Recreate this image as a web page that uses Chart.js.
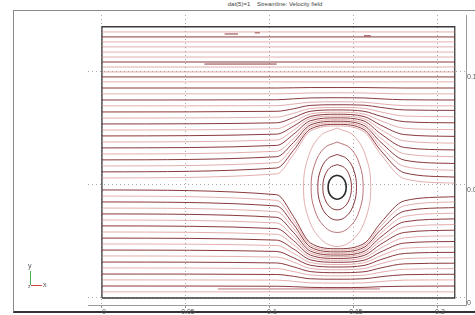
<!DOCTYPE html>
<html>
<head>
<meta charset="utf-8">
<script src="https://cdn.jsdelivr.net/npm/chart.js@4.4.1/dist/chart.umd.min.js"></script>
<style>
  html, body { margin: 0; padding: 0; background: #fff; }
  #wrap { position: relative; width: 475px; height: 315px; overflow: hidden; font-family: "Liberation Sans", "DejaVu Sans", sans-serif; }
  #frame { position: absolute; left: 13px; top: 10px; width: 470px; height: 300px; border-left: 1px solid #8a8a8a; border-top: 1px solid #8a8a8a; border-bottom: 2px solid #333; }
  #title { position: absolute; top: 1px; left: 0; width: 550px; text-align: center; font-size: 6px; color: #444; white-space: pre; }
  canvas { position: absolute; left: 0; top: 0; }
  .tri { position: absolute; }
</style>
</head>
<body>
<div id="wrap">
  <div id="frame"></div>
  <div id="title">dat(5)=1    Streamline: Velocity field</div>
  <canvas id="c" width="475" height="315"></canvas>
  <div class="tri" style="left:30px;top:271px;width:1px;height:14px;background:#4caf50;"></div>
  <div class="tri" style="left:31px;top:285px;width:11px;height:1px;background:#d04040;"></div>
  <div class="tri" style="left:28px;top:262px;font-size:7px;color:#555;">y</div>
  <div class="tri" style="left:43px;top:281px;font-size:7px;color:#555;">x</div>
  <div class="tri" style="left:28px;top:283px;font-size:5px;color:#555;">z</div>
</div>
<script>
// ---- axis ticks ----
const xTicks = [0, 0.05, 0.1, 0.15, 0.2];
const xTickLabels = ['0', '0.05', '0.1', '0.15', '0.2'];
const yTicks = [0, 0.05, 0.1];
const yTickLabels = ['0', '0.05', '0.1'];

// ---- domain outline ----
const domainX = [0, 0.21, 0.21, 0, 0];
const domainY = [0, 0, 0.12, 0.12, 0];

// ---- straight streamlines (far from the vortex) ----
const straightY     = [0.1177, 0.1155, 0.1133, 0.1111, 0.1088, 0.1066, 0.1044, 0.1022, 0.1, 0.0978, 0.0956, 0.0027];
const straightShade = ['l', 'd', 'l', 'l', 'l', 'l', 'd', 'l', 'l', 'd', 'l', 'l'];

// ---- x stations for deflected streamlines ----
const stationX = [0, 0.104, 0.114, 0.124, 0.14, 0.156, 0.166, 0.18, 0.21];

// lines with a small bump over the vortex
const bumpY = [
  [0.0929, 0.0929, 0.0930, 0.0931, 0.0931, 0.0931, 0.0930, 0.0929, 0.0929],
  [0.0903, 0.0903, 0.0905, 0.0907, 0.0908, 0.0907, 0.0905, 0.0903, 0.0903],
  [0.0876, 0.0877, 0.0881, 0.0885, 0.0886, 0.0885, 0.0881, 0.0877, 0.0876],
  [0.0850, 0.0851, 0.0858, 0.0866, 0.0868, 0.0866, 0.0859, 0.0851, 0.0850]
];
const bumpShade = ['d', 'l', 'd', 'l'];

// lines passing over the vortex
const upperY = [
  [0.0823, 0.0826, 0.0837, 0.0852, 0.0855, 0.0853, 0.0843, 0.0832, 0.0830],
  [0.0796, 0.0800, 0.0817, 0.0838, 0.0843, 0.0839, 0.0823, 0.0805, 0.0802],
  [0.0770, 0.0775, 0.0798, 0.0826, 0.0832, 0.0826, 0.0804, 0.0780, 0.0775],
  [0.0743, 0.0749, 0.0779, 0.0814, 0.0822, 0.0814, 0.0784, 0.0751, 0.0745],
  [0.0717, 0.0725, 0.0760, 0.0803, 0.0813, 0.0803, 0.0764, 0.0723, 0.0715],
  [0.0690, 0.0699, 0.0742, 0.0794, 0.0805, 0.0793, 0.0745, 0.0695, 0.0685],
  [0.0664, 0.0675, 0.0724, 0.0784, 0.0797, 0.0783, 0.0726, 0.0666, 0.0655],
  [0.0637, 0.0649, 0.0705, 0.0774, 0.0789, 0.0773, 0.0707, 0.0638, 0.0625],
  [0.0611, 0.0625, 0.0688, 0.0765, 0.0782, 0.0763, 0.0689, 0.0610, 0.0595],
  [0.0584, 0.0599, 0.0670, 0.0756, 0.0775, 0.0754, 0.0670, 0.0582, 0.0565],
  [0.0558, 0.0575, 0.0653, 0.0747, 0.0768, 0.0745, 0.0652, 0.0554, 0.0535],
  [0.0531, 0.0549, 0.0635, 0.0738, 0.0761, 0.0736, 0.0635, 0.0528, 0.0508]
];
const upperShade = ['d', 'l', 'd', 'l', 'd', 'l', 'd', 'l', 'd', 'l', 'd', 'l'];

// lines passing under the vortex
const lowerY = [
  [0.0478, 0.0457, 0.0361, 0.0244, 0.0218, 0.0241, 0.0333, 0.0430, 0.0448],
  [0.0451, 0.0432, 0.0343, 0.0235, 0.0211, 0.0232, 0.0318, 0.0408, 0.0425],
  [0.0425, 0.0407, 0.0326, 0.0226, 0.0204, 0.0224, 0.0302, 0.0384, 0.0400],
  [0.0398, 0.0382, 0.0308, 0.0217, 0.0197, 0.0215, 0.0286, 0.0361, 0.0375],
  [0.0372, 0.0357, 0.0290, 0.0208, 0.0190, 0.0206, 0.0270, 0.0337, 0.0350],
  [0.0345, 0.0332, 0.0272, 0.0199, 0.0183, 0.0197, 0.0254, 0.0314, 0.0325],
  [0.0319, 0.0307, 0.0254, 0.0190, 0.0175, 0.0188, 0.0238, 0.0290, 0.0300],
  [0.0292, 0.0282, 0.0236, 0.0180, 0.0167, 0.0178, 0.0221, 0.0266, 0.0275],
  [0.0265, 0.0256, 0.0217, 0.0169, 0.0158, 0.0167, 0.0204, 0.0243, 0.0250],
  [0.0239, 0.0232, 0.0198, 0.0157, 0.0148, 0.0156, 0.0187, 0.0220, 0.0226],
  [0.0212, 0.0206, 0.0178, 0.0145, 0.0137, 0.0144, 0.0170, 0.0197, 0.0202],
  [0.0186, 0.0181, 0.0159, 0.0131, 0.0125, 0.0130, 0.0152, 0.0174, 0.0178],
  [0.0159, 0.0155, 0.0138, 0.0117, 0.0112, 0.0116, 0.0133, 0.0151, 0.0154],
  [0.0133, 0.0130, 0.0117, 0.0102, 0.0098, 0.0101, 0.0114, 0.0127, 0.0130],
  [0.0106, 0.0104, 0.0096, 0.0085, 0.0083, 0.0085, 0.0094, 0.0103, 0.0105],
  [0.0080, 0.0079, 0.0074, 0.0067, 0.0066, 0.0067, 0.0073, 0.0079, 0.0080],
  [0.0053, 0.0052, 0.0050, 0.0047, 0.0046, 0.0047, 0.0050, 0.0052, 0.0053]
];
const lowerShade = ['d', 'l', 'd', 'l', 'd', 'l', 'd', 'l', 'd', 'l', 'd', 'l', 'd', 'l', 'd', 'l', 'd'];

// closed vortex rings around the cylinder (first = cylinder wall)
const ringX = [
  [0.14, 0.1427, 0.1447, 0.1454, 0.1447, 0.1427, 0.14, 0.1373, 0.1353, 0.1346, 0.1353, 0.1373, 0.14],
  [0.14, 0.1443, 0.1474, 0.1485, 0.1474, 0.1443, 0.14, 0.1358, 0.1326, 0.1315, 0.1326, 0.1358, 0.14],
  [0.14, 0.1458, 0.1500, 0.1515, 0.1500, 0.1458, 0.14, 0.1343, 0.1300, 0.1285, 0.1300, 0.1343, 0.14],
  [0.14, 0.1478, 0.1534, 0.1555, 0.1534, 0.1478, 0.14, 0.1323, 0.1266, 0.1245, 0.1266, 0.1323, 0.14],
  [0.14, 0.1500, 0.1573, 0.1600, 0.1573, 0.1500, 0.14, 0.1300, 0.1227, 0.1200, 0.1227, 0.1300, 0.14]
];
const ringY = [
  [0.0543, 0.0536, 0.0517, 0.049, 0.0463, 0.0444, 0.0437, 0.0444, 0.0463, 0.049, 0.0517, 0.0536, 0.0543],
  [0.0590, 0.0577, 0.0540, 0.049, 0.0440, 0.0403, 0.0390, 0.0403, 0.0440, 0.049, 0.0540, 0.0577, 0.0590],
  [0.0635, 0.0616, 0.0563, 0.049, 0.0418, 0.0364, 0.0345, 0.0364, 0.0418, 0.049, 0.0563, 0.0616, 0.0635],
  [0.0690, 0.0663, 0.0590, 0.049, 0.0390, 0.0317, 0.0290, 0.0317, 0.0390, 0.049, 0.0590, 0.0663, 0.0690],
  [0.0752, 0.0717, 0.0621, 0.049, 0.0359, 0.0263, 0.0228, 0.0263, 0.0359, 0.049, 0.0621, 0.0717, 0.0752]
];
const ringShade = ['c', 'd', 'd', 'm', 'l'];

// short partial streamline pieces
const pieceX = [[0.073, 0.081], [0.091, 0.094], [0.156, 0.160], [0.061, 0.104], [0.069, 0.1655]];
const pieceY = [[0.1168, 0.1168], [0.1173, 0.1173], [0.1160, 0.1160], [0.1035, 0.1035], [0.0040, 0.0040]];
const pieceShade = ['d', 'd', 'd', 'd', 'm'];

// ---- styles ----
const shadeColor = { d: 'rgba(125,35,40,0.9)', m: 'rgba(160,70,75,0.75)', l: 'rgba(210,130,130,0.65)', c: '#2b2b2b', k: '#3a3a3a' };
const shadeWidth = { d: 1, m: 1, l: 1, c: 1.6, k: 1.3 };

const datasets = [];
function addLine(xs, ys, shade, smooth, closed) {
  datasets.push({
    data: xs.map((x, i) => ({ x: x, y: ys[i] })),
    showLine: true,
    borderColor: shadeColor[shade],
    borderWidth: shadeWidth[shade],
    pointRadius: 0,
    fill: false,
    tension: smooth ? 0.4 : 0,
    cubicInterpolationMode: closed ? 'default' : 'monotone'
  });
}
straightY.forEach((y, i) => addLine([0, 0.21], [y, y], straightShade[i], false, false));
bumpY.forEach((ys, i) => addLine(stationX, ys, bumpShade[i], true, false));
upperY.forEach((ys, i) => addLine(stationX, ys, upperShade[i], true, false));
lowerY.forEach((ys, i) => addLine(stationX, ys, lowerShade[i], true, false));
pieceX.forEach((xs, i) => addLine(xs, pieceY[i], pieceShade[i], false, false));
ringX.forEach((xs, i) => addLine(xs, ringY[i], ringShade[i], true, true));
addLine(domainX, domainY, 'k', false, false);

const tickFont = { family: 'Liberation Sans, DejaVu Sans, sans-serif', size: 7 };

new Chart(document.getElementById('c'), {
  type: 'scatter',
  data: { datasets: datasets },
  options: {
    responsive: false,
    animation: false,
    events: [],
    layout: { padding: { left: 88, top: 15, right: 0, bottom: 0 }, autoPadding: false },
    plugins: { legend: { display: false }, tooltip: { enabled: false }, title: { display: false } },
    scales: {
      x: {
        type: 'linear',
        position: 'bottom',
        min: -0.0083,
        max: 0.2167,
        afterBuildTicks: s => { s.ticks = xTicks.map(v => ({ value: v })); },
        afterFit: s => { s.height = 10; },
        ticks: {
          callback: (v) => { const i = xTicks.indexOf(v); return i >= 0 ? xTickLabels[i] : ''; },
          font: tickFont, color: '#555', padding: 0, labelOffset: 2, maxRotation: 0, autoSkip: false
        },
        grid: { color: 'rgba(150,150,150,0.8)', lineWidth: 1, tickLength: 3, tickColor: '#999', drawTicks: true },
        border: { display: true, color: '#9a9a9a', width: 1, dash: [1, 3] }
      },
      y: {
        type: 'linear',
        position: 'right',
        min: -0.0031,
        max: 0.1252,
        afterBuildTicks: s => { s.ticks = yTicks.map(v => ({ value: v })); },
        afterFit: s => { s.width = 9; },
        ticks: {
          callback: (v) => { const i = yTicks.indexOf(v); return i >= 0 ? yTickLabels[i] : ''; },
          font: tickFont, color: '#555', padding: 1, labelOffset: 5, autoSkip: false
        },
        grid: { color: 'rgba(150,150,150,0.8)', lineWidth: 1, drawTicks: false },
        border: { display: true, color: '#9a9a9a', width: 1, dash: [1, 3] }
      }
    }
  }
});
</script>
</body>
</html>
